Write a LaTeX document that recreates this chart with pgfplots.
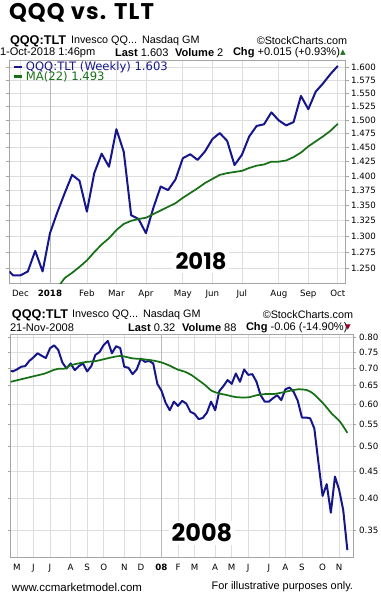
\documentclass[border=0pt]{standalone}
\usepackage{fontspec}
\setmainfont{Liberation Sans}
\newfontfamily\dv{DejaVu Sans}
\newfontfamily\pop{Poppins}
\newfontfamily\popw{Poppins}[LetterSpace=5]
\usepackage{pgfplots}
\pgfplotsset{compat=1.18}
\definecolor{navy}{RGB}{22,22,140}
\definecolor{mag}{RGB}{22,112,22}
\definecolor{gridc}{RGB}{222,222,222}
\definecolor{yeargrid}{RGB}{185,185,185}
\definecolor{framec}{RGB}{165,165,165}
\definecolor{tri}{RGB}{150,0,40}
\definecolor{trig}{RGB}{30,120,30}

\pgfplotstableread{
w v
-5.5 1.245
-5 1.239
-4 1.239
-3 1.245
-2 1.277
-1 1.245
0 1.305
1 1.339
2 1.371
3 1.402
4 1.392
5 1.340
6 1.405
7 1.439
8 1.416
9 1.483
10 1.442
11 1.334
12 1.328
13 1.305
14 1.346
15 1.382
16 1.376
17 1.394
18 1.431
19 1.438
20 1.428
21 1.443
22 1.465
23 1.476
24 1.462
25 1.419
26 1.437
27 1.470
28 1.489
29 1.492
30 1.514
31 1.499
32 1.490
33 1.496
34 1.545
35 1.520
36 1.553
37 1.569
38 1.587
39 1.603
}\pricea

\pgfplotstableread{
w v
1 1.220
2 1.235
3 1.243
4 1.252
5 1.262
6 1.275
7 1.287
8 1.297
9 1.310
10 1.320
11 1.325
12 1.328
13 1.330
14 1.336
15 1.342
16 1.348
17 1.354
18 1.363
19 1.371
20 1.379
21 1.388
22 1.395
23 1.402
24 1.405
25 1.407
26 1.409
27 1.414
28 1.418
29 1.420
30 1.425
31 1.425
32 1.427
33 1.433
34 1.441
35 1.452
36 1.461
37 1.470
38 1.480
39 1.493
}\maa

\pgfplotstableread{
w v
-36.5 0.693
-36 0.691
-35 0.697
-34 0.705
-33 0.707
-32 0.723
-31 0.734
-30 0.747
-29 0.739
-28 0.732
-27 0.763
-26 0.773
-25 0.758
-24 0.718
-23 0.700
-22 0.715
-21 0.695
-20 0.707
-19 0.715
-18 0.691
-17 0.707
-16 0.742
-15 0.751
-14 0.774
-13 0.788
-12 0.747
-11 0.770
-10 0.764
-9 0.705
-8 0.702
-7 0.683
-6 0.697
-5 0.730
-4 0.720
-3 0.723
-2 0.715
-1 0.655
0 0.636
1 0.604
2 0.585
3 0.607
4 0.596
5 0.609
6 0.602
7 0.581
8 0.576
9 0.563
10 0.566
11 0.579
12 0.607
13 0.585
14 0.635
15 0.649
16 0.666
17 0.655
18 0.685
19 0.661
20 0.697
21 0.681
22 0.683
23 0.661
24 0.624
25 0.607
26 0.607
27 0.616
28 0.624
29 0.611
30 0.640
31 0.645
32 0.633
33 0.609
34 0.567
35 0.567
36 0.565
37 0.541
38 0.467
39 0.405
40 0.426
41 0.377
42 0.440
43 0.416
44 0.381
45 0.321
}\priceb

\pgfplotstableread{
w v
-36.52 0.661
-31.27 0.676
-28.21 0.685
-26.19 0.695
-24.98 0.699
-23.2 0.700
-22.15 0.709
-20.14 0.715
-18.12 0.720
-16.1 0.722
-14.08 0.728
-12.07 0.734
-10.45 0.738
-9.08 0.737
-7.06 0.731
-5.04 0.729
-3.03 0.726
-1.98 0.724
0.04 0.718
2.06 0.708
3.83 0.697
5.69 0.690
7.3 0.680
8.92 0.666
10.53 0.652
12.15 0.636
13.92 0.629
15.94 0.624
17.96 0.619
19.98 0.618
21.43 0.619
23.04 0.624
25.06 0.627
27.08 0.627
29.1 0.631
31.1 0.636
33.13 0.640
35.15 0.638
36.12 0.633
37.17 0.624
39.18 0.602
41.2 0.577
43.22 0.557
45 0.531
}\mab

\pgfplotsset{sc/.style={
  scale only axis,
  grid=major, major grid style={gridc, line width=0.55pt},
  axis line style={framec, line width=0.75pt},
  yticklabel pos=right, tick align=outside,
  ytick style={framec, line width=0.5pt}, major tick length=2.2pt,
  xtick style={draw=none},
  ticklabel style={font=\dv\fontsize{6.5pt}{7pt}\selectfont, text=black, inner sep=0pt},
  yticklabel style={anchor=west, xshift=1.4pt},
  xticklabel style={anchor=north, yshift=-2.4pt},
  extra x tick labels={},
  extra x tick style={major grid style={yeargrid, line width=0.6pt}},
}}

\begin{document}
\begin{tikzpicture}
\path[use as bounding box] (0,0) rectangle (285.75pt,-451.5pt);

% ---------- 2018 chart ----------
\begin{axis}[ymode=log, sc,
  at={(6.975pt,-213pt)}, anchor=south west,
  width=252.5pt, height=167.25pt,
  xmin=-5.51, xmax=40.1, ymin=1.226, ymax=1.6128,
  xtick={-4,0,5,9,13,18,22,26,31,35,39},
  xticklabels={Dec,\textbf{2018},Feb,Mar,Apr,May,Jun,Jul,Aug,Sep,Oct},
  extra x ticks={0},
  ytick={1.25,1.275,1.3,1.325,1.35,1.375,1.4,1.425,1.45,1.475,1.5,1.525,1.55,1.575,1.6},
  yticklabels={1.250,1.275,1.300,1.325,1.350,1.375,1.400,1.425,1.450,1.475,1.500,1.525,1.550,1.575,1.600},
  legend cell align=left,
  legend style={at={(0,1)}, anchor=north west, draw=none, fill=none,
    inner sep=0pt, xshift=2pt, yshift=-0.3pt, row sep=-0.9pt,
    nodes={inner sep=0pt},
    font=\dv\fontsize{8.7pt}{9pt}\selectfont,
    /tikz/every odd column/.append style={column sep=2.3pt}},
  legend image code/.code={\draw[#1, line width=2pt, line cap=butt] (0pt,0pt) -- (6pt,0pt);},
]
\addplot[navy, line width=1.5pt, line join=round] table[x=w, y=v] {\pricea};
\addlegendentry{\textcolor{navy}{QQQ:TLT (Weekly) 1.603}}
\addplot[mag, line width=1.3pt, line join=round] table[x=w, y=v] {\maa};
\addlegendentry{\textcolor{mag}{MA(22) 1.493}}
\end{axis}

% ---------- 2008 chart ----------
\begin{axis}[ymode=log, sc,
  at={(8.025pt,-418.3pt)}, anchor=south west,
  width=256.95pt, height=167.8pt,
  xmin=-36.51, xmax=46.44, ymin=0.3106, ymax=0.8114,
  xtick={-35,-31,-27,-22,-18,-14,-9,-5,0,4,8,13,17,21,26,30,34,39,43},
  xticklabels={M,J,J,A,S,O,N,D,\textbf{08},F,M,A,M,J,J,A,S,O,N},
  extra x ticks={0},
  ytick={0.35,0.4,0.45,0.5,0.55,0.6,0.65,0.7,0.75,0.8},
  yticklabels={0.35,0.40,0.45,0.50,0.55,0.60,0.65,0.70,0.75,0.80},
  yticklabel style={xshift=0.6pt},
]
\addplot[navy, line width=1.5pt, line join=round] table[x=w, y=v] {\priceb};
\addplot[mag, line width=1.3pt, smooth] table[x=w, y=v] {\mab};
\end{axis}

\begin{scope}[x=0.75pt, y=-0.75pt, every node/.style={inner sep=0pt, outer sep=0pt}]
% title
\node[anchor=west, font=\popw\bfseries\fontsize{17pt}{18pt}\selectfont] at (9,12.5) {QQQ vs. TLT};
% header chart 1
\node[anchor=west, font=\fontsize{9.5pt}{10pt}\selectfont\bfseries] at (10,41) {QQQ:TLT};
\node[anchor=west, font=\fontsize{8.1pt}{9pt}\selectfont] at (71,41) {Invesco QQ...};
\node[anchor=west, font=\fontsize{8.1pt}{9pt}\selectfont] at (142,41) {Nasdaq GM};
\node[anchor=east, font=\fontsize{8.1pt}{9pt}\selectfont] at (347,41) {\textcopyright StockCharts.com};
\node[anchor=west, font=\fontsize{8.3pt}{9pt}\selectfont] at (0,52.5) {1-Oct-2018 1:46pm};
\node[anchor=west, font=\fontsize{8.3pt}{9pt}\selectfont] at (115,52.5) {\textbf{Last} 1.603};
\node[anchor=west, font=\fontsize{8.3pt}{9pt}\selectfont] at (175,52.5) {\textbf{Volume} 2};
\node[anchor=west, font=\fontsize{8.3pt}{9pt}\selectfont] at (233,52.5) {\textbf{Chg} +0.015 (+0.93\%)};
\node[anchor=west, font=\dv\fontsize{5.5pt}{6pt}\selectfont, text=trig] at (340,52.5) {▲};
% header chart 2
\node[anchor=west, font=\fontsize{9.5pt}{10pt}\selectfont\bfseries] at (12,315) {QQQ:TLT};
\node[anchor=west, font=\fontsize{8.1pt}{9pt}\selectfont] at (72,315) {Invesco QQ...};
\node[anchor=west, font=\fontsize{8.1pt}{9pt}\selectfont] at (143,315) {Nasdaq GM};
\node[anchor=east, font=\fontsize{8.1pt}{9pt}\selectfont] at (353,315) {\textcopyright StockCharts.com};
\node[anchor=west, font=\fontsize{8.3pt}{9pt}\selectfont] at (10,327.3) {21-Nov-2008};
\node[anchor=west, font=\fontsize{8.3pt}{9pt}\selectfont] at (128,327.3) {\textbf{Last} 0.32};
\node[anchor=west, font=\fontsize{8.3pt}{9pt}\selectfont] at (182,327.3) {\textbf{Volume} 88};
\node[anchor=west, font=\fontsize{8.3pt}{9pt}\selectfont] at (246,327.3) {\textbf{Chg} -0.06 (-14.90\%)};
\node[anchor=west, font=\dv\fontsize{5.5pt}{6pt}\selectfont, text=tri] at (345,327.3) {▼};
% year labels
\node[fill=white, inner xsep=2pt, inner ysep=2pt, font=\pop\bfseries\fontsize{17pt}{18pt}\selectfont] at (201,261.5) {2018};
\node[fill=white, inner xsep=2pt, inner ysep=2pt, font=\pop\bfseries\fontsize{18pt}{19pt}\selectfont] at (202,533) {2008};
% footer
\node[anchor=west, font=\fontsize{8.6pt}{9pt}\selectfont] at (12,587) {www.ccmarketmodel.com};
\node[anchor=east, font=\fontsize{8.2pt}{9pt}\selectfont] at (353,587) {For illustrative purposes only.};
\end{scope}
\end{tikzpicture}
\end{document}
